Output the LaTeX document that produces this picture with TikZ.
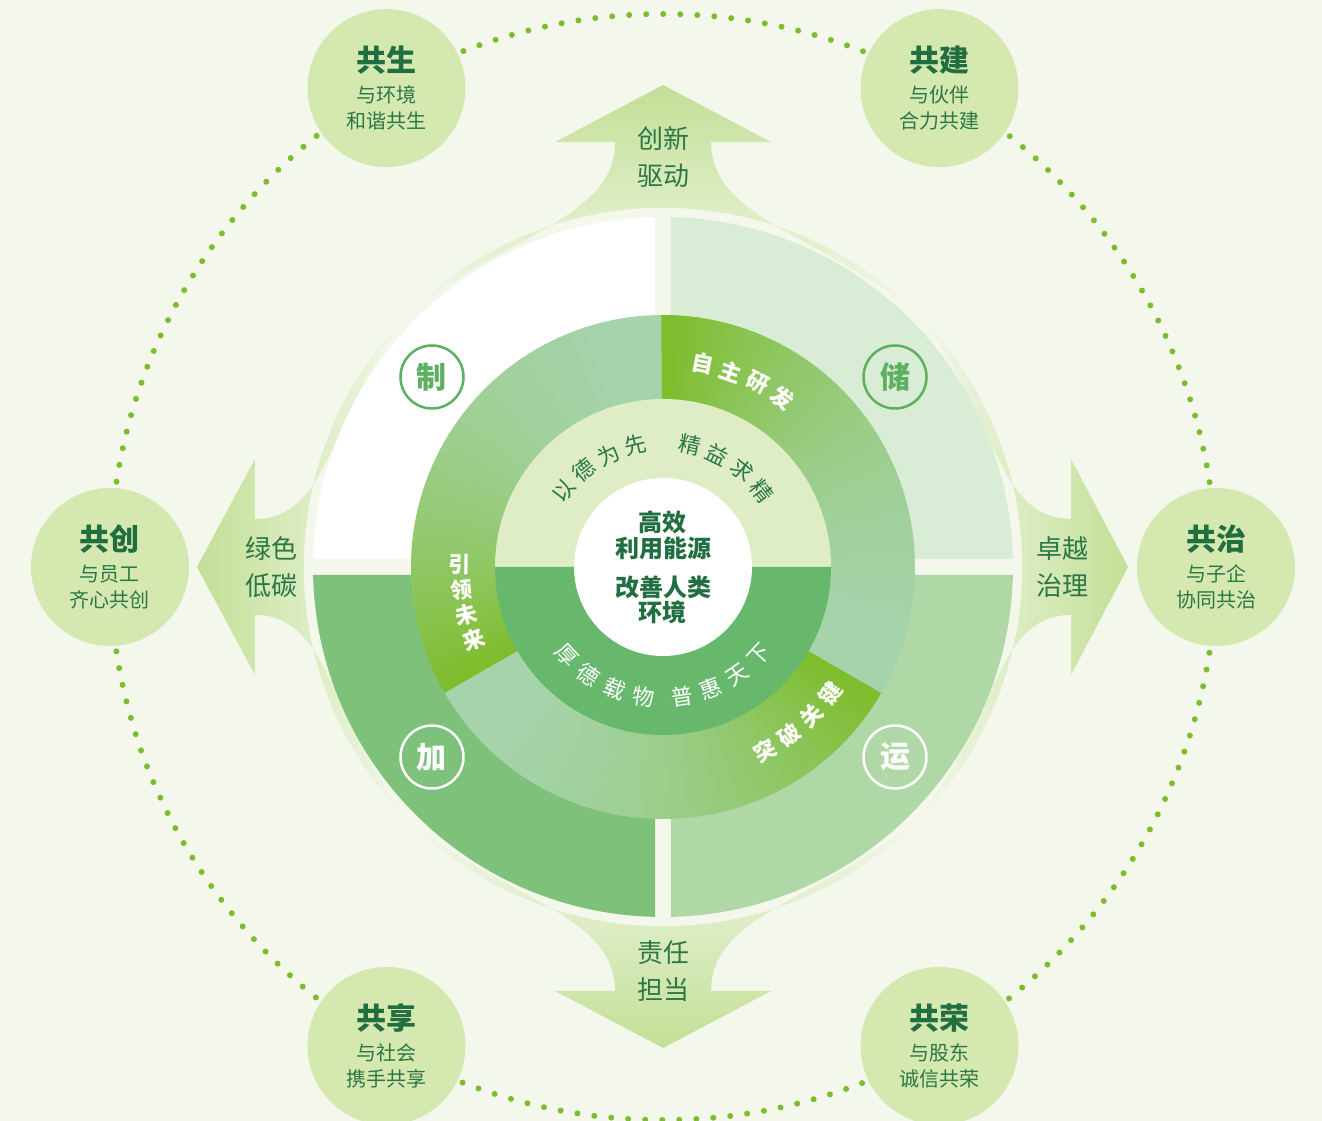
\documentclass[tikz,border=0pt]{standalone}
\usepackage{fontspec}
\setmainfont{Noto Sans CJK SC}
\usetikzlibrary{fadings}
\definecolor{bgc}{HTML}{F4F8EC}
\definecolor{dotg}{HTML}{7CBD2E}
\definecolor{bubblec}{HTML}{D5E8B0}
\definecolor{deep}{HTML}{216E40}
\definecolor{midg}{HTML}{2B7747}
\definecolor{arrowg}{HTML}{C3E096}
\definecolor{qtr}{HTML}{D9ECD6}
\definecolor{qbl}{HTML}{7DC17A}
\definecolor{qbr}{HTML}{B0D8A7}
\definecolor{pale}{HTML}{A5D3AB}
\definecolor{bright}{HTML}{7EBD2B}
\definecolor{ringtop}{HTML}{DFEDC6}
\definecolor{ringbot}{HTML}{67B86C}
\definecolor{markg}{HTML}{5DAF62}
\tikzfading[name=fadeN, top color=transparent!0, bottom color=transparent!100]
\tikzfading[name=fadeS, top color=transparent!100, bottom color=transparent!0]
\tikzfading[name=fadeE, right color=transparent!0, left color=transparent!100]
\tikzfading[name=fadeW, right color=transparent!100, left color=transparent!0]

\begin{document}
\begin{tikzpicture}[x=1pt, y=1pt,
  bubblenode/.style={circle, fill=bubblec, minimum size=158, inner sep=0},
  ttl/.style={text=deep, font=\fontsize{30}{32}\selectfont\bfseries},
  sub/.style={text=midg, font=\fontsize{20}{22}\selectfont},
  arrowtext/.style={text=midg, font=\fontsize{26}{28}\selectfont},
  coretext/.style={text=deep, font=\fontsize{24}{26}\selectfont\bfseries},
  innertext/.style={font=\fontsize{22}{22}\selectfont, inner sep=0},
  ringtext/.style={text=white, font=\fontsize{22}{22}\selectfont\bfseries, inner sep=0},
  qmark/.style={circle, line width=2.5, minimum size=63, inner sep=0, font=\fontsize{30}{30}\selectfont\bfseries},
  dotring/.style={dotg, line width=6, line cap=round, dash pattern=on 0pt off 17.03pt}]
\useasboundingbox (-663,-554) rectangle (659,567);
\fill[bgc] (-663,-554) rectangle (659,567);
\draw[dotring] (0,0) circle[radius=553];

\foreach \ang/\tp/\bs/\fd in {90/482/425/fadeN, 270/481/424/fadeS, 180/466/408/fadeW, 0/465/408/fadeE} {
  \begin{scope}[rotate=\ang-90]
    \coordinate (tip) at (0,\tp);
    \coordinate (hr) at (108,\bs);
    \coordinate (sr) at (48,\bs);
    \coordinate (cr1) at (48,\bs-75);
    \coordinate (cr2) at (150,335);
    \coordinate (er) at (254,254);
    \coordinate (hl) at (-108,\bs);
    \coordinate (sl) at (-48,\bs);
    \coordinate (cl1) at (-48,\bs-75);
    \coordinate (cl2) at (-150,335);
  \end{scope}
  \fill[arrowg, path fading=\fd, fit fading=true] (tip) -- (hr) -- (sr) .. controls (cr1) and (cr2) .. (er)
    arc[start angle=\ang-45, end angle=\ang+45, radius=359.2] .. controls (cl2) and (cl1) .. (sl) -- (hl) -- cycle;
}

\foreach \q/\col in {0/qtr, 90/white, 180/qbl, 270/qbr}
  \fill[\col, rotate=\q] (8,8) -- (1.31:350) arc[start angle=1.31, end angle=88.69, radius=350] -- cycle;

\foreach \s in {90,210,330} {
  \foreach \i in {0,...,59} {
    \pgfmathtruncatemacro\p{100*(\i/59)^2}
    \fill[bright!\p!pale] (0,0) -- (\s+2*\i:252) arc[start angle=\s+2*\i, delta angle=2.4, radius=252] -- cycle;
  }
}
\fill[ringtop] (0,0) -- (168,0) arc[start angle=0, end angle=180, radius=168] -- cycle;
\fill[ringbot] (0,0) -- (-168,0) arc[start angle=180, end angle=360, radius=168] -- cycle;
\node (core) [circle, fill=white, minimum size=178, inner sep=0] at (0,0) {};

\node (ct1) [coretext] at (0,45) {高效};
\node (ct2) [coretext] at (0,19) {利用能源};
\node (ct3) [coretext] at (0,-20) {改善人类};
\node (ct4) [coretext] at (0,-45) {环境};

\foreach \c [count=\n] in {以,德,为,先} {
  \pgfmathsetmacro\t{142.6-13.3*(\n-1)}
  \node (yd\n) [innertext, text=midg, rotate=\t-90] at (\t:125) {\c};
}
\foreach \c [count=\n] in {精,益,求,精} {
  \pgfmathsetmacro\t{77.4-13.3*(\n-1)}
  \node (jy\n) [innertext, text=midg, rotate=\t-90] at (\t:125) {\c};
}
\foreach \c [count=\n] in {厚,德,载,物} {
  \pgfmathsetmacro\t{222.5+13*(\n-1)}
  \node (hd\n) [innertext, text=white, rotate=\t+90] at (\t:131) {\c};
}
\foreach \c [count=\n] in {普,惠,天,下} {
  \pgfmathsetmacro\t{278.5+13*(\n-1)}
  \node (ph\n) [innertext, text=white, rotate=\t+90] at (\t:131) {\c};
}
\foreach \c [count=\n] in {自,主,研,发} {
  \pgfmathsetmacro\t{79-8.1*(\n-1)}
  \node (zz\n) [ringtext, rotate=\t-90] at (\t:207) {\c};
}
\foreach \c [count=\n] in {引,领,未,来} {
  \pgfmathsetmacro\t{179.3+7.2*(\n-1)}
  \node (yl\n) [ringtext, rotate=\t-180] at (\t:203) {\c};
}
\foreach \c [count=\n] in {突,破,关,键} {
  \pgfmathsetmacro\t{299+8*(\n-1)}
  \node (tp\n) [ringtext, rotate=\t+90] at (\t:210) {\c};
}

\node (zhi) [qmark, draw=markg, text=markg] at (-231,190) {制};
\node (chu) [qmark, draw=markg, text=markg] at (232,190) {储};
\node (jia) [qmark, draw=white, text=white] at (-231,-190) {加};
\node (yun) [qmark, draw=white, text=white] at (232,-190) {运};

\node (up1) [arrowtext] at (0,428) {创新};
\node (up2) [arrowtext] at (0,391) {驱动};
\node (lf1) [arrowtext] at (-391,18) {绿色};
\node (lf2) [arrowtext] at (-391,-19) {低碳};
\node (rt1) [arrowtext] at (399,18) {卓越};
\node (rt2) [arrowtext] at (399,-19) {治理};
\node (dn1) [arrowtext] at (0,-386) {责任};
\node (dn2) [arrowtext] at (0,-423) {担当};

\foreach \a/\hd/\lineA/\lineB in {120/共生/与环境/和谐共生, 60/共建/与伙伴/合力共建, 180/共创/与员工/齐心共创,
    0/共治/与子企/协同共治, 240/共享/与社会/携手共享, 300/共荣/与股东/诚信共荣} {
  \node (b\a) [bubblenode] at (\a:553) {};
  \node (b\a-t) [ttl] at ([yshift=28]b\a) {\hd};
  \node (b\a-x) [sub] at ([yshift=-7]b\a) {\lineA};
  \node (b\a-y) [sub] at ([yshift=-33]b\a) {\lineB};
}
\end{tikzpicture}
\end{document}
